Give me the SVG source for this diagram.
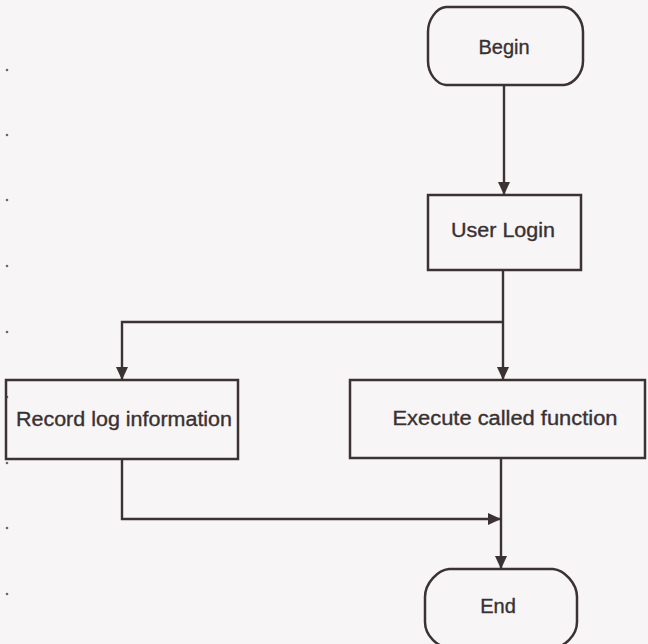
<svg xmlns="http://www.w3.org/2000/svg" width="648" height="644" viewBox="0 0 648 644">
  <defs>
    <marker id="arrow" viewBox="0 0 13 13" refX="13" refY="6.5" markerWidth="13" markerHeight="13" markerUnits="userSpaceOnUse" orient="auto">
      <path d="M0,0.5 L13,6.5 L0,12.5 Z" fill="#3b3234"/>
    </marker>
    <style>
      .shape { fill: none; stroke: #3b3234; stroke-width: 2.5; }
      .wire { fill: none; stroke: #3b3234; stroke-width: 2.4; }
      .label { font-family: "Liberation Sans", Arial, sans-serif; font-size: 20px; fill: #383132; stroke: #383132; stroke-width: 0.35; }
      .dot { fill: #6e6669; }
    </style>
  </defs>

  <!-- paper -->
  <rect x="0" y="0" width="648" height="644" fill="#f8f5f6"/>

  <!-- margin specks -->
  <g id="margin-dots">
    <circle class="dot" cx="7" cy="70" r="1.3"/>
    <circle class="dot" cx="7" cy="135" r="1.3"/>
    <circle class="dot" cx="7" cy="200" r="1.3"/>
    <circle class="dot" cx="7" cy="266" r="1.3"/>
    <circle class="dot" cx="7" cy="332" r="1.3"/>
    <circle class="dot" cx="7" cy="397" r="1.3"/>
    <circle class="dot" cx="7" cy="463" r="1.3"/>
    <circle class="dot" cx="7" cy="528" r="1.3"/>
    <circle class="dot" cx="7" cy="594" r="1.3"/>
  </g>

  <!-- connectors -->
  <g id="connectors">
    <line class="wire" x1="504" y1="85" x2="504" y2="195" marker-end="url(#arrow)"/>
    <polyline class="wire" points="503,270 503,322"/>
    <polyline class="wire" points="503,322 122,322 122,380" marker-end="url(#arrow)"/>
    <line class="wire" x1="503" y1="322" x2="503" y2="380" marker-end="url(#arrow)"/>
    <polyline class="wire" points="122,459 122,519 501,519" marker-end="url(#arrow)"/>
    <line class="wire" x1="501" y1="458" x2="501" y2="569" marker-end="url(#arrow)"/>
  </g>

  <!-- Begin terminator -->
  <g id="begin">
    <path class="shape" d="M446,7 L564,7 C574,8 583,20 583,32 L583,61 C583,73 574,84 564,85 L446,85 C436,84 428,73 428,61 L428,32 C428,20 436,8 446,7 Z"/>
    <text class="label" x="504" y="54" text-anchor="middle">Begin</text>
  </g>

  <!-- User Login -->
  <g id="user-login">
    <rect class="shape" x="428" y="195" width="153" height="75"/>
    <text class="label" x="503" y="237" text-anchor="middle" textLength="104" lengthAdjust="spacingAndGlyphs">User Login</text>
  </g>

  <!-- Record log information -->
  <g id="record-log">
    <rect class="shape" x="6" y="380" width="232" height="79"/>
    <text class="label" x="16" y="426" textLength="216" lengthAdjust="spacingAndGlyphs">Record log information</text>
  </g>

  <!-- Execute called function -->
  <g id="execute-function">
    <rect class="shape" x="350" y="380" width="295" height="78"/>
    <text class="label" x="505" y="425" text-anchor="middle" textLength="225" lengthAdjust="spacingAndGlyphs">Execute called function</text>
  </g>

  <!-- End terminator -->
  <g id="end">
    <path class="shape" d="M449,569 L553,569 C564,570 577,583 577,597 L577,622 C577,636 564,647 553,648 L449,648 C438,647 425,636 425,622 L425,597 C425,583 438,570 449,569 Z"/>
    <text class="label" x="498" y="613" text-anchor="middle">End</text>
  </g>
</svg>
